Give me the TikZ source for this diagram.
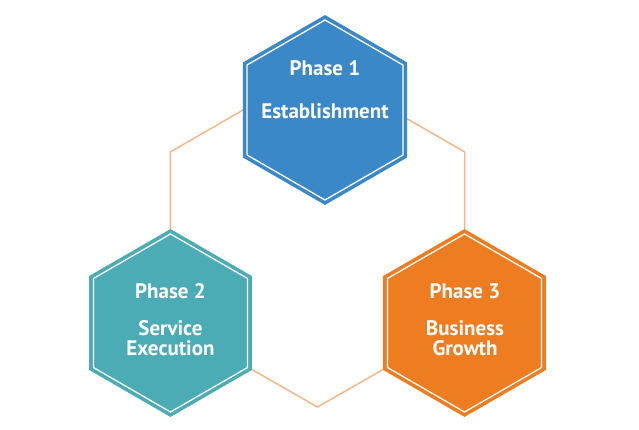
\documentclass[tikz,border=0pt]{standalone}
\usepackage{fontspec}
\setmainfont{PT Sans}
\usetikzlibrary{shapes.geometric,backgrounds}
\definecolor{hblue}{HTML}{3B88C8}
\definecolor{hteal}{HTML}{4BACB6}
\definecolor{horange}{HTML}{EE7D22}
\definecolor{hline}{HTML}{F5B483}
\tikzset{
  hexbody/.style={regular polygon, regular polygon sides=6, shape border rotate=30,
    minimum size=#1, inner sep=0pt, outer sep=0pt, line width=1.6pt},
  hexinner/.style={regular polygon, regular polygon sides=6, shape border rotate=30,
    minimum size=#1, inner sep=0pt, outer sep=0pt, draw=white, line width=1.3pt},
  conn/.style={draw=hline, line width=1.4pt, line join=miter},
  lbl/.style={text=white, font=\bfseries\fontsize{21}{25}\selectfont, anchor=base, inner sep=0pt}
}
\begin{document}
\begin{tikzpicture}[x=1pt,y=-1pt]
\useasboundingbox (0,0) rectangle (639,430);
% hexagons
\node[hexbody=188pt, fill=hblue, draw=hblue] (h1) at (325,110) {};
\node[hexinner=180pt] (w1) at (h1.center) {};
\node[hexbody=186pt, fill=hteal, draw=hteal] (h2) at (170.5,323) {};
\node[hexinner=178pt] (w2) at (h2.center) {};
\node[hexbody=186pt, fill=horange, draw=horange] (h3) at (464.5,323) {};
\node[hexinner=178pt] (w3) at (h3.center) {};
% labels
\node[lbl] (t1a) at (325,75.7) {Phase 1};
\node[lbl] (t1b) at (325,119) {Establishment};
\node[lbl] (t2a) at (170.5,298.3) {Phase 2};
\node[lbl] (t2b) at (170.5,335) {Service};
\node[lbl] (t2c) at (170.5,355) {Execution};
\node[lbl] (t3a) at (465,298.3) {Phase 3};
\node[lbl] (t3b) at (465,335) {Business};
\node[lbl] (t3c) at (465,355) {Growth};
% connectors
\coordinate (ul) at (170.3,152);
\coordinate (tp) at (317.5,67);
\coordinate (ur) at (464.7,152);
\coordinate (bt) at (317.5,407);
\begin{scope}[on background layer]
\draw[conn] (h2.center) -- (ul) -- (tp) -- (ur) -- (h3.center) -- (bt) -- cycle;
\end{scope}
\end{tikzpicture}
\end{document}
